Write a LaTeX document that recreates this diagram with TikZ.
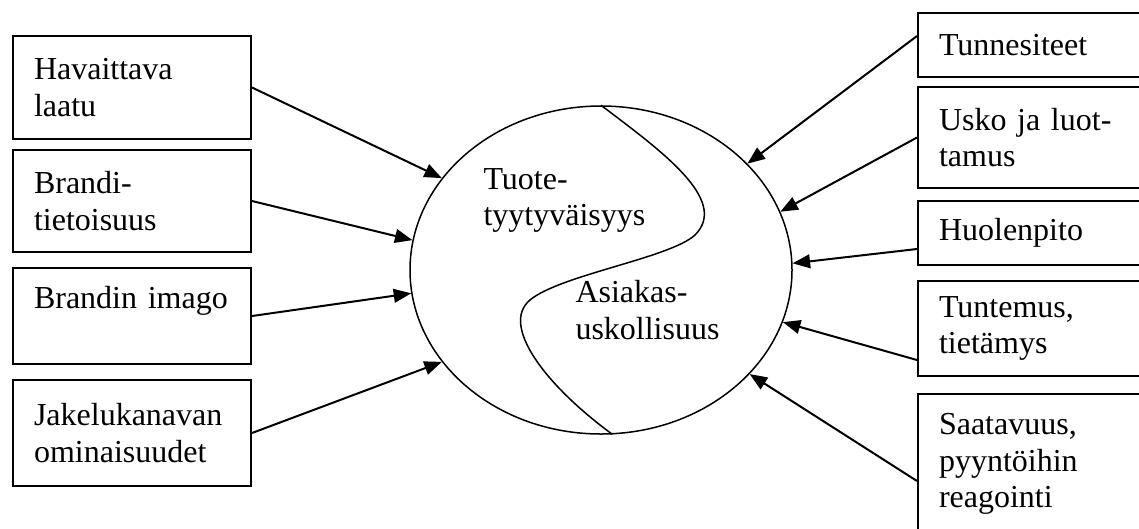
\documentclass[tikz,border=0pt]{standalone}
\usepackage{fontspec}
\setmainfont{Liberation Serif}
\usetikzlibrary{arrows.meta,shapes.geometric}

\tikzset{
  laatikko/.style={draw, line width=0.8pt, anchor=north west, align=left,
    inner xsep=8.4pt, inner ysep=0pt},
  vasen/.style={laatikko, text width=78.4pt},
  oikea/.style={laatikko, text width=88pt},
  nuoli/.style={line width=0.8pt, -{Triangle[length=7pt,width=5.5pt]}},
  teksti/.style={anchor=north west, inner sep=0pt, align=left}
}

\begin{document}
\begin{tikzpicture}[x=0.4pt, y=-0.4pt, font=\fontsize{12.8}{14.6}\selectfont]
\useasboundingbox (0,0) rectangle (1139,528);
\clip (0,0) rectangle (1139,528);

% vasemmat laatikot
\node [vasen, minimum height=41.2pt] (havaittava) at (12,35) {Havaittava\\laatu};
\node [vasen, minimum height=40.8pt] (brandi) at (12,149) {Brandi-\\tietoisuus};
\node [vasen, minimum height=38.4pt] (imago) at (12,267) {Brandin imago\\\mbox{}};
\node [vasen, minimum height=42.4pt] (jakelu) at (12,379) {Jakelukanavan\\ominaisuudet};

% oikeat laatikot
\node [oikea, minimum height=25.6pt] (tunnesiteet) at (917,12) {Tunnesiteet};
\node [oikea, minimum height=40.4pt] (usko) at (917,86) {Usko ja luot-\\tamus};
\node [oikea, minimum height=25.6pt] (huolenpito) at (917,200) {Huolenpito};
\node [oikea, minimum height=38pt] (tuntemus) at (917,280) {Tuntemus,\\tietämys};
\node [oikea, minimum height=56pt] (saatavuus) at (917,393) {Saatavuus,\\pyyntöihin\\reagointi};

% soikio
\node [draw, ellipse, line width=0.6pt, minimum width=152.8pt,
  minimum height=131.2pt, inner sep=0pt] (oval) at (601,270) {};
\draw [line width=0.6pt] (oval.north) .. controls (660,150) and (730,200) .. (695,235)
  .. controls (670,258) and (560,275) .. (530,300)
  .. controls (500,325) and (545,385) .. (oval.-86);
\node [teksti] (tuote) at (483,168) {Tuote-\\tyytyväisyys};
\node [teksti] (asiakas) at (575,280) {Asiakas-\\uskollisuus};

\foreach \laatikko/\kulma in {havaittava/150, brandi/171, imago/187, jakelu/210}
  \draw [nuoli] (\laatikko.east) -- (oval.\kulma);
\draw [nuoli] ([yshift=3.6pt]tunnesiteet.west) -- (oval.36);
\draw [nuoli] (usko.west) -- (oval.18);
\draw [nuoli] ([yshift=-6.4pt]huolenpito.west) -- (oval.2);
\draw [nuoli] ([yshift=-12.6pt]tuntemus.west) -- (oval.-16);
\draw [nuoli] ([yshift=-6.8pt]saatavuus.west) -- (oval.-35);
\end{tikzpicture}
\end{document}
